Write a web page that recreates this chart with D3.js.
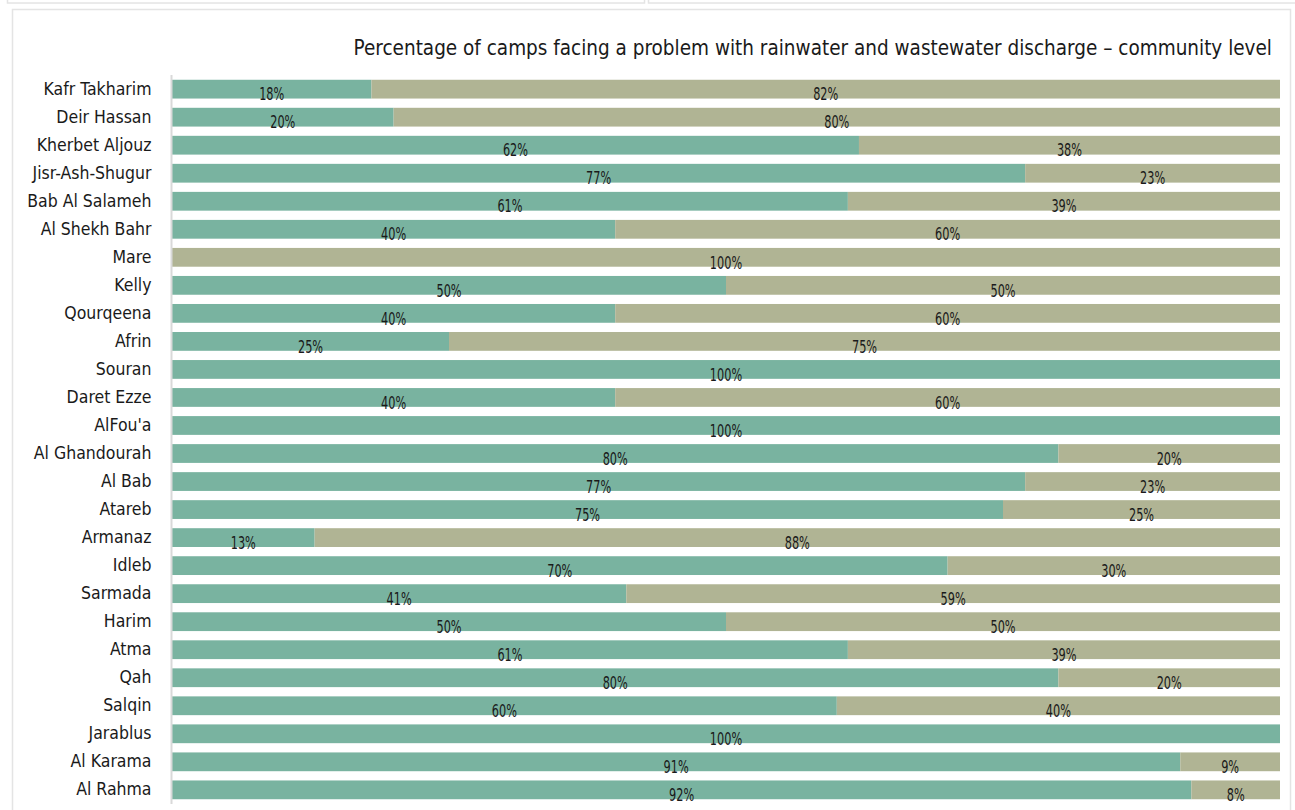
<!DOCTYPE html>
<html>
<head>
<meta charset="utf-8">
<script src="https://cdn.jsdelivr.net/npm/d3@7/dist/d3.min.js"></script>
<style>
  html, body { margin: 0; padding: 0; background: #fff; }
  svg { display: block; }
  text { font-family: "DejaVu Sans Condensed", "Liberation Sans Narrow", sans-serif; fill: #1a1a1a; }
</style>
</head>
<body>
<svg id="chart" width="1295" height="810"></svg>
<script>
// Communities, top to bottom
const communities = [
  "Kafr Takharim", "Deir Hassan", "Kherbet Aljouz", "Jisr-Ash-Shugur", "Bab Al Salameh",
  "Al Shekh Bahr", "Mare", "Kelly", "Qourqeena", "Afrin", "Souran", "Daret Ezze",
  "AlFou'a", "Al Ghandourah", "Al Bab", "Atareb", "Armanaz", "Idleb", "Sarmada",
  "Harim", "Atma", "Qah", "Salqin", "Jarablus", "Al Karama", "Al Rahma"
];
// Share of camps (%) in each of the two answer groups
const firstGroup = [18, 20, 62, 77, 61, 40, 0, 50, 40, 25, 100, 40, 100, 80, 77, 75, 13, 70, 41, 50, 61, 80, 60, 100, 91, 92];
const secondGroup = [82, 80, 38, 23, 39, 60, 100, 50, 60, 75, 0, 60, 0, 20, 23, 25, 88, 30, 59, 50, 39, 20, 40, 0, 9, 8];
const seriesKeys = ["first", "second"];
const seriesColors = ["#79b3a0", "#b0b494"];
const chartTitle = "Percentage of camps facing a problem with rainwater and wastewater discharge \u2013 community level";

const rows = communities.map((c, i) => ({ community: c, first: firstGroup[i], second: secondGroup[i] }));

const svg = d3.select("#chart");
const W = 1295, H = 810;

// Page frame: two panel edges above and the chart panel
const frame = svg.append("g").attr("fill", "none").attr("stroke", "#e4e4e4").attr("stroke-width", 1.5);
frame.append("rect").attr("x", 7.5).attr("y", -20).attr("width", 637).attr("height", 23);
frame.append("rect").attr("x", 648.5).attr("y", -20).attr("width", 660).attr("height", 23);
frame.append("rect").attr("x", 12.5).attr("y", 9.5).attr("width", 1278).attr("height", 830);

const margin = { left: 172, right: 15, top: 75, bottom: 6 };
const x = d3.scaleLinear().domain([0, 1]).range([margin.left, W - margin.right]);
const y = d3.scaleBand().domain(communities).range([margin.top, H - margin.bottom]).paddingInner(0.33).paddingOuter(0.17);

// 100% stacked layout
const stacked = d3.stack().keys(seriesKeys).offset(d3.stackOffsetExpand)(rows);
const color = d3.scaleOrdinal().domain(seriesKeys).range(seriesColors);

const layers = svg.append("g").selectAll("g").data(stacked).join("g").attr("fill", d => color(d.key));
layers.selectAll("rect")
  .data(d => d.map(s => ({ s, key: d.key })))
  .join("rect")
  .attr("x", d => x(d.s[0]))
  .attr("y", d => y(d.s.data.community))
  .attr("width", d => Math.max(0, x(d.s[1]) - x(d.s[0])))
  .attr("height", y.bandwidth());

// Segment value labels (narrowed to a condensed look)
const labels = svg.append("g").attr("font-size", 18.5).attr("text-anchor", "middle");
stacked.forEach(layer => {
  labels.selectAll(null)
    .data(layer.filter(s => s.data[layer.key] > 0))
    .join("text")
    .attr("transform", s => `translate(${(x(s[0]) + x(s[1])) / 2},${y(s.data.community) + y.bandwidth() + 1.8}) scale(0.68,1)`)
    .text(s => s.data[layer.key] + "%");
});

// Category axis
const yAxis = svg.append("g").attr("transform", `translate(${margin.left - 0.5},0)`)
  .call(d3.axisLeft(y).tickSize(0).tickPadding(20));
yAxis.select(".domain").attr("stroke", "#d9d9d9").attr("stroke-width", 2)
  .attr("d", `M0,${margin.top}V${H - 6}`);
yAxis.selectAll(".tick text").attr("font-size", 17.5).attr("fill", "#1a1a1a")
  .attr("font-family", "\"DejaVu Sans Condensed\", \"Liberation Sans Narrow\", sans-serif");

// Title
svg.append("text")
  .attr("x", 1272).attr("y", 55)
  .attr("text-anchor", "end")
  .attr("font-size", 20.5)
  .text(chartTitle);
</script>
</body>
</html>
